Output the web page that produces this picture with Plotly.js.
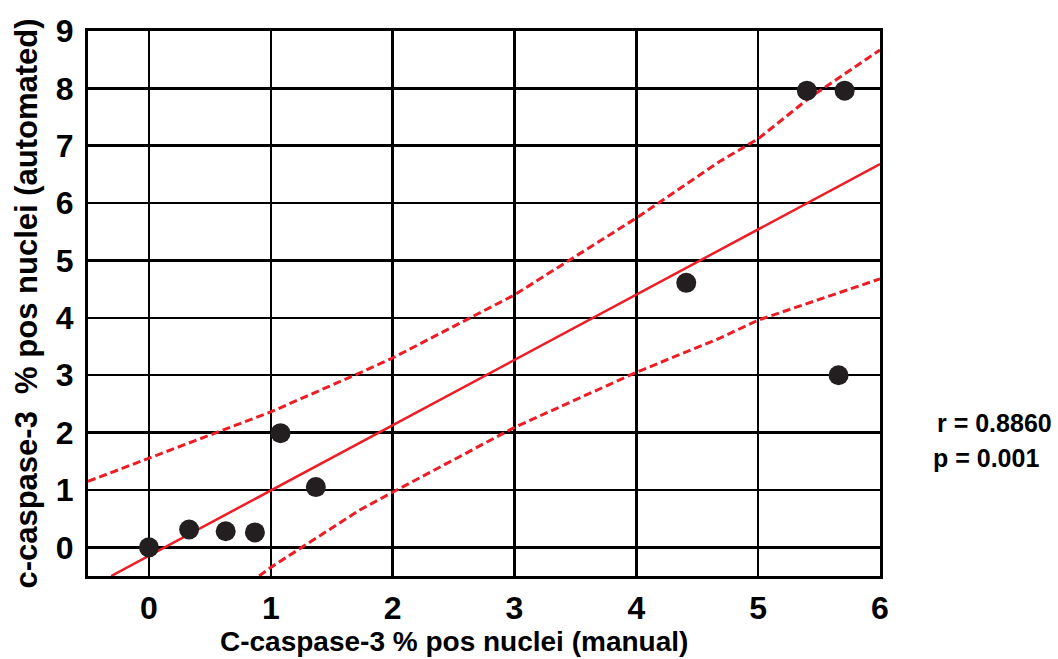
<!DOCTYPE html>
<html>
<head>
<meta charset="utf-8">
<script src="https://cdn.plot.ly/plotly-3.0.1.min.js"></script>
<style>html,body{margin:0;padding:0;background:#fff;}#chart{width:1058px;height:659px;}</style>
</head>
<body>
<div id="chart"></div>
<script>
// Data points (manual vs automated)
var manualPct = [0, 0.33, 0.63, 0.87, 1.08, 1.37, 4.41, 5.40, 5.71, 5.66];
var automatedPct = [0, 0.31, 0.28, 0.26, 1.99, 1.05, 4.61, 7.96, 7.96, 3.00];

// Regression line
var fitX = [-0.31, 6.0];
var fitY = [-0.5, 6.68];

// Confidence band, upper
var upperX = [-0.5, 0, 1, 1.73, 2, 3, 4, 4.68, 5, 5.43, 6];
var upperY = [1.15, 1.55, 2.36, 3.04, 3.30, 4.40, 5.74, 6.72, 7.12, 7.85, 8.67];

// Confidence band, lower
var lowerX = [0.905, 1, 1.73, 2, 3, 4, 4.69, 5, 6];
var lowerY = [-0.5, -0.35, 0.65, 0.96, 2.09, 3.05, 3.65, 3.96, 4.68];

var xTicks = [0, 1, 2, 3, 4, 5, 6];
var yTicks = [0, 1, 2, 3, 4, 5, 6, 7, 8, 9];

var xTitle = 'C-caspase-3 % pos nuclei (manual)';
var yTitle = 'c-caspase-3  % pos nuclei (automated)';
var statR = 'r = 0.8860';
var statP = 'p = 0.001';

var font = 'Liberation Sans, Arial, Helvetica, sans-serif';
var red = '#ee1c24';

var traces = [
  {x: upperX, y: upperY, mode: 'lines', type: 'scatter', line: {color: red, width: 3, dash: '8px,4px'}, hoverinfo: 'skip'},
  {x: lowerX, y: lowerY, mode: 'lines', type: 'scatter', line: {color: red, width: 3, dash: '8px,4px'}, hoverinfo: 'skip'},
  {x: fitX, y: fitY, mode: 'lines', type: 'scatter', line: {color: red, width: 2.5}, hoverinfo: 'skip'},
  {x: manualPct, y: automatedPct, mode: 'markers', type: 'scatter', marker: {color: '#231f20', size: 20}}
];

var axisCommon = {
  showgrid: true, gridcolor: '#000', gridwidth: 2.5,
  zeroline: false, showline: true, linecolor: '#000', linewidth: 3, mirror: true,
  ticks: '', tickfont: {family: font, size: 32, color: '#000', weight: 'bold'},
  fixedrange: true, automargin: false
};

var layout = {
  width: 1058, height: 659,
  margin: {l: 88, r: 178, t: 31, b: 83},
  paper_bgcolor: '#fff', plot_bgcolor: '#fff',
  showlegend: false,
  xaxis: Object.assign({}, axisCommon, {
    range: [-0.5, 6], tickvals: xTicks, ticktext: xTicks.map(String), ticklabelstandoff: 2
  }),
  yaxis: Object.assign({}, axisCommon, {
    range: [-0.5, 9], tickvals: yTicks, ticktext: yTicks.map(String), ticklabelstandoff: 5,
    title: {text: yTitle, font: {family: font, size: 31, color: '#000', weight: 'bold'}, standoff: 9}
  }),
  annotations: [
    {xref: 'paper', yref: 'paper', x: 0.462, y: -0.12, xanchor: 'center', yanchor: 'middle', showarrow: false,
     text: xTitle, font: {family: font, size: 28, color: '#000', weight: 'bold'}},
    {xref: 'paper', yref: 'paper', x: 1.07, y: 0.281, xanchor: 'left', yanchor: 'middle', showarrow: false,
     text: statR, font: {family: font, size: 25, color: '#000', weight: 'bold'}},
    {xref: 'paper', yref: 'paper', x: 1.065, y: 0.2165, xanchor: 'left', yanchor: 'middle', showarrow: false,
     text: statP, font: {family: font, size: 25, color: '#000', weight: 'bold'}}
  ]
};

Plotly.newPlot('chart', traces, layout, {displayModeBar: false, staticPlot: true});
</script>
</body>
</html>
